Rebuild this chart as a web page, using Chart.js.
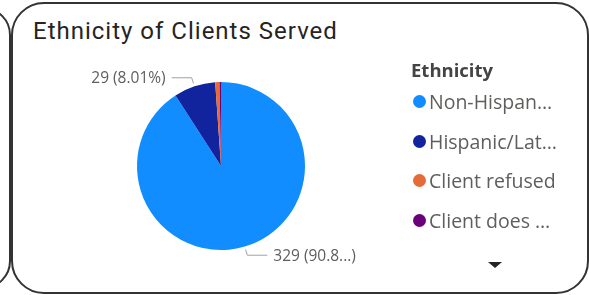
<!DOCTYPE html>
<html>
<head>
<meta charset="utf-8">
<script src="https://cdn.jsdelivr.net/npm/chart.js@4"></script>
<style>
  html, body { margin: 0; padding: 0; background: #fff; }
  #page { position: relative; width: 589px; height: 295px; overflow: hidden; font-family: "Open Sans", "Noto Sans", sans-serif; }
  .card { position: absolute; box-sizing: border-box; border: 2px solid #333; background: transparent; }
  #leftCard { left: -289px; top: 7px; width: 300px; height: 282px; border-radius: 28px; }
  #mainCard { left: 11px; top: 2px; width: 578px; height: 292px; border-radius: 33px; }
  #title { position: absolute; left: 33px; top: 17px; font-family: Roboto, sans-serif; font-size: 24px; letter-spacing: 1px; color: #252423; white-space: nowrap; }
  #chartWrap { position: absolute; left: 0; top: 0; width: 589px; height: 295px; }
  #legend { position: absolute; left: 411px; top: 58px; }
  #legend .ttl { font-weight: bold; font-size: 18.5px; color: #444; height: 24px; line-height: 24px; }
  #legend ul { list-style: none; margin: 0; padding: 0; }
  #legend li { display: flex; align-items: center; height: 39.5px; }
  #legend .dot { width: 13px; height: 13px; border-radius: 50%; margin: 0 3px 0 2px; flex: none; }
  #legend .txt { font-size: 19.5px; color: #605E5C; width: 128px; white-space: nowrap; overflow: hidden; text-overflow: ellipsis; }
  #more { position: absolute; left: 488px; top: 262px; width: 0; height: 0; border-left: 7px solid transparent; border-right: 7px solid transparent; border-top: 6px solid #252423; }
</style>
</head>
<body>
<div id="page">
  <div class="card" id="leftCard"></div>
  <div class="card" id="mainCard"></div>
  <div id="title">Ethnicity of Clients Served</div>
  <div id="chartWrap"><canvas id="ethnicityChart" width="589" height="295"></canvas></div>
  <div id="legend"><div class="ttl">Ethnicity</div><ul id="legendList"></ul></div>
  <div id="more"></div>
</div>
<script>
var categories = ['Non-Hispanic/Latino', 'Hispanic/Latino', 'Client refused', 'Client does not know'];
var clients = [329, 29, 3, 1];
var colors = ['#118DFF', '#12239E', '#E66C37', '#6B007B'];

// leader-line labels like Power BI
var pieLabels = {
  id: 'pieLabels',
  afterDatasetsDraw: function (chart) {
    var ctx = chart.ctx;
    var meta = chart.getDatasetMeta(0);
    var data = chart.data.datasets[0].data;
    var total = data.reduce(function (a, b) { return a + b; }, 0);
    ctx.save();
    ctx.font = '15.5px "Open Sans", sans-serif';
    ctx.strokeStyle = '#A0A0A0';
    ctx.lineWidth = 1;
    ctx.fillStyle = '#605E5C';
    ctx.textBaseline = 'middle';
    meta.data.forEach(function (arc, i) {
      var pct = data[i] / total * 100;
      if (pct < 2) return;
      var mid = (arc.startAngle + arc.endAngle) / 2;
      var r = arc.outerRadius;
      var cx = arc.x, cy = arc.y;
      var x1 = cx + Math.cos(mid) * (r + 3), y1 = cy + Math.sin(mid) * (r + 3);
      var x2 = cx + Math.cos(mid) * (r + 9), y2 = cy + Math.sin(mid) * (r + 9);
      var dir = Math.cos(mid) >= 0 ? 1 : -1;
      var x3 = x2 + dir * 20;
      ctx.beginPath();
      ctx.moveTo(x1, y1);
      ctx.lineTo(x2, y2);
      ctx.lineTo(x3, y2);
      ctx.stroke();
      var p = pct.toFixed(2);
      var txt = data[i] + ' (' + p + '%)';
      while (ctx.measureText(txt).width > 90 && p.length > 1) {
        p = p.slice(0, -1);
        txt = data[i] + ' (' + p + '...)';
      }
      ctx.textAlign = dir > 0 ? 'left' : 'right';
      ctx.fillText(txt, x3 + dir * 6, y2 + 1);
    });
    ctx.restore();
  }
};

var chart = new Chart(document.getElementById('ethnicityChart'), {
  type: 'pie',
  data: {
    labels: categories,
    datasets: [{ data: clients, backgroundColor: colors, borderWidth: 0, radius: 84 }]
  },
  options: {
    responsive: false,
    animation: false,
    layout: { padding: { left: 60, right: 207, top: 80, bottom: 43 } },
    plugins: { legend: { display: false }, tooltip: { enabled: false } }
  },
  plugins: [pieLabels]
});

// HTML legend from the chart's own legend items
var items = Chart.overrides.pie.plugins.legend.labels.generateLabels(chart);
var ul = document.getElementById('legendList');
items.forEach(function (it) {
  var li = document.createElement('li');
  var dot = document.createElement('span');
  dot.className = 'dot';
  dot.style.background = it.fillStyle;
  var t = document.createElement('span');
  t.className = 'txt';
  t.textContent = it.text;
  li.appendChild(dot);
  li.appendChild(t);
  ul.appendChild(li);
});
</script>
</body>
</html>
